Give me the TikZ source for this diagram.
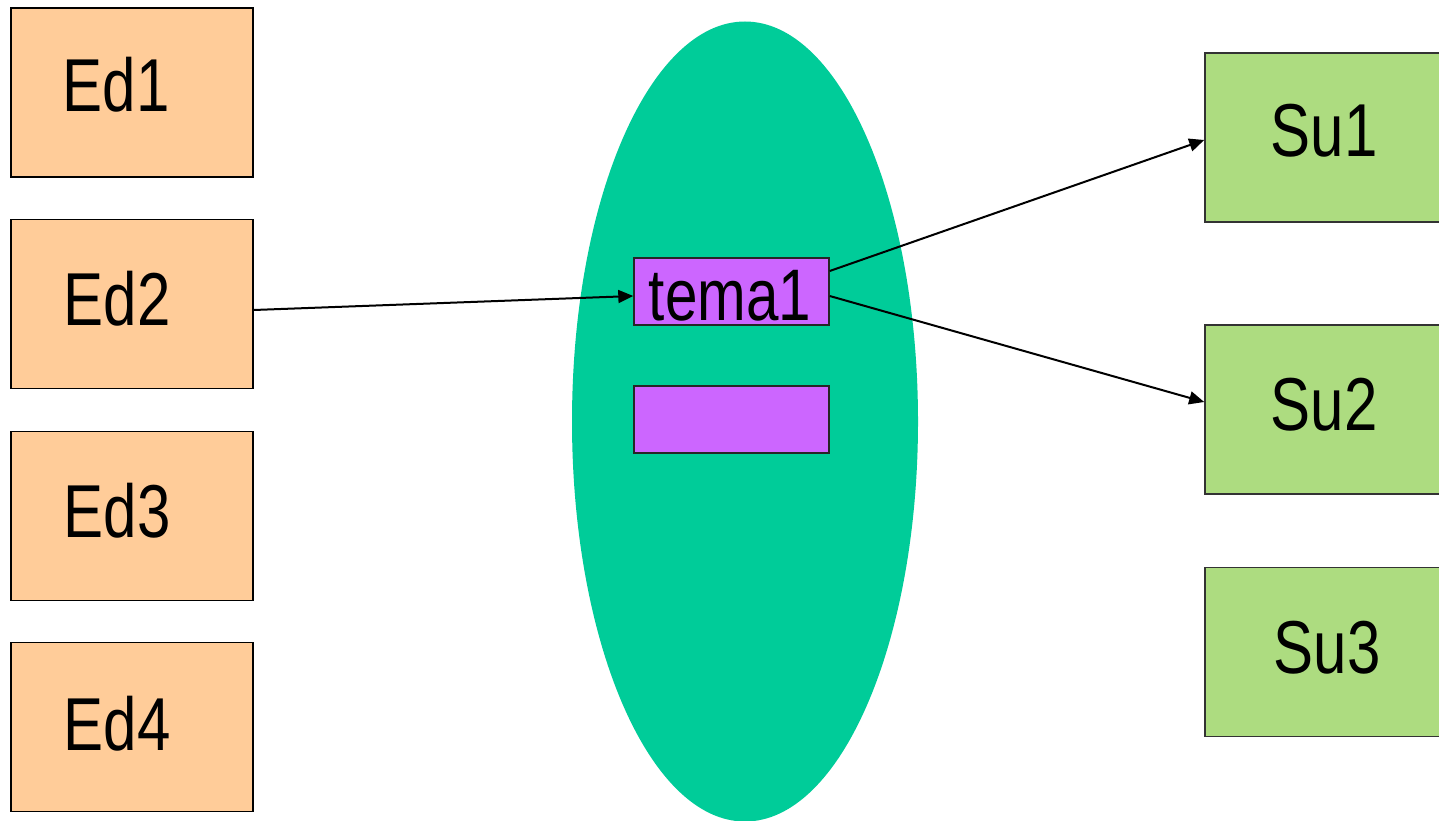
\documentclass[tikz,border=0pt]{standalone}
\usepackage{fontspec}
\setmainfont{Liberation Sans}
\newfontfamily\labfont[FakeStretch=0.8]{Liberation Sans}
\usetikzlibrary{arrows.meta,shapes.geometric}
\definecolor{edc}{HTML}{FFCC99}
\definecolor{suc}{HTML}{ADDC80}
\definecolor{tmc}{HTML}{CC66FF}
\definecolor{elc}{HTML}{00CC99}
\begin{document}
\begin{tikzpicture}[x=1pt,y=-1pt,
  edbox/.style={draw=black,line width=1.6pt,fill=edc,rectangle,inner sep=0pt,minimum width=242pt,minimum height=169pt},
  subox/.style={draw=black!80,line width=1.6pt,fill=suc,rectangle,inner sep=0pt,minimum width=250pt,minimum height=169pt},
  tmbox/.style={draw=black!85,line width=1.4pt,fill=tmc,rectangle,inner sep=0pt,minimum width=195pt,minimum height=67pt},
  lbl/.style={inner sep=0pt,anchor=base,font=\labfont\fontsize{75}{80}\selectfont},
  tlbl/.style={inner sep=0pt,anchor=base,font=\labfont\fontsize{73}{76}\selectfont},
  arr/.style={draw=black,line width=2pt,-{Triangle[length=15pt,width=13pt]}}]
\clip (0,0) rectangle (1439,821);
\fill[white] (0,0) rectangle (1439,821);
% ellipse
\node[ellipse,fill=elc,minimum width=346pt,minimum height=800pt,inner sep=0pt] (ell) at (745,421.5) {};
% left boxes
\node[edbox] (ed1) at (132,92.5) {};
\node[edbox] (ed2) at (132,304) {};
\node[edbox] (ed3) at (132,516) {};
\node[edbox] (ed4) at (132,727) {};
\node[lbl] (ed1t) at (116,112) {Ed1};
\node[lbl] (ed2t) at (117,325) {Ed2};
\node[lbl] (ed3t) at (117,537) {Ed3};
\node[lbl] (ed4t) at (117,750) {Ed4};
% right boxes
\node[subox] (su1) at (1330,137.5) {};
\node[subox] (su2) at (1330,409.5) {};
\node[subox] (su3) at (1330,652) {};
\node[lbl] (su1t) at (1324,157) {Su1};
\node[lbl] (su2t) at (1324,430) {Su2};
\node[lbl] (su3t) at (1327,673) {Su3};
% tema boxes
\node[tmbox] (tema) at (731.5,291.5) {};
\node[tmbox] (tema2) at (731.5,419.5) {};
\node[tlbl] (temat) at (730,320) {tema1};
% arrows
\draw[arr] ([yshift=-6pt]ed2.east) -- ([yshift=-4.5pt]tema.west);
\draw[arr] ([yshift=20.5pt]tema.east) -- ([yshift=-2.5pt]su1.west);
\draw[arr] ([yshift=-4.5pt]tema.east) -- ([yshift=7.5pt]su2.west);
\end{tikzpicture}
\end{document}
